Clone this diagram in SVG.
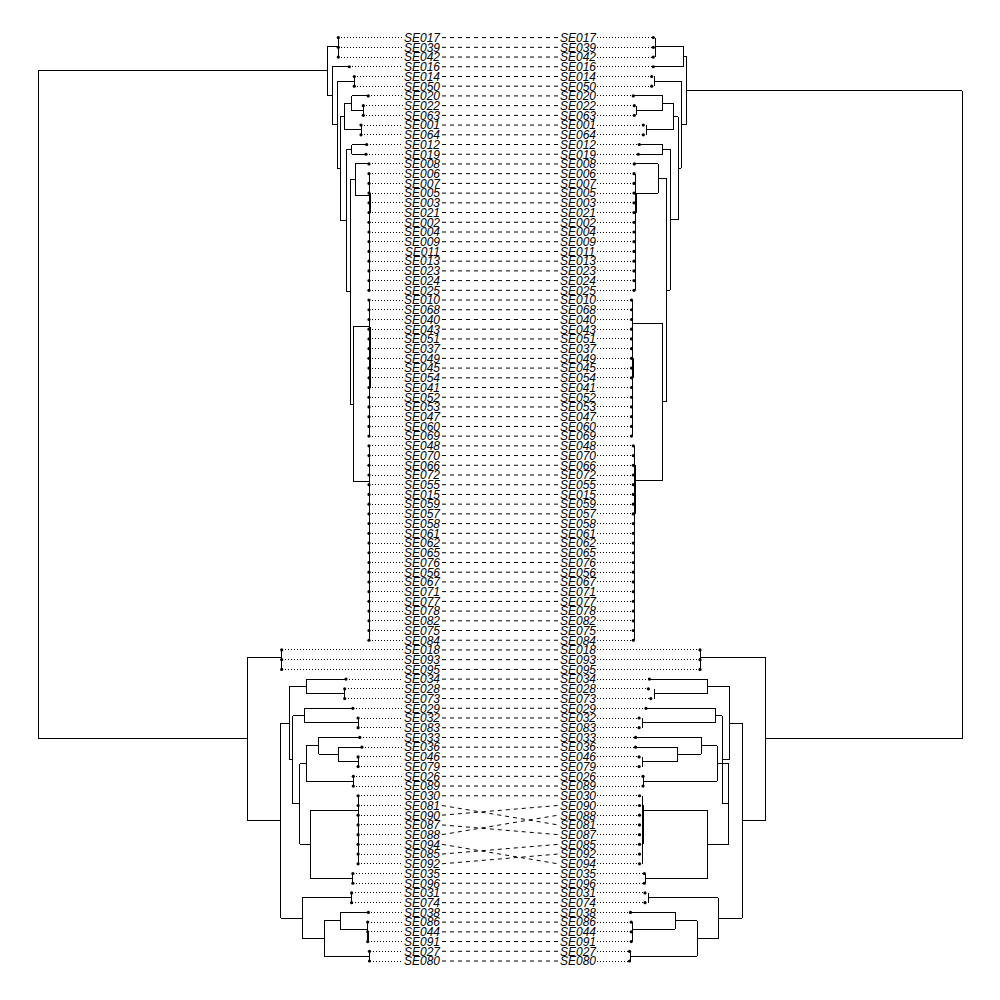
<svg xmlns="http://www.w3.org/2000/svg" width="1000" height="1000" viewBox="0 0 1000 1000">
<style>
text{font-family:"Liberation Sans",Arial,sans-serif;font-style:italic;font-size:12px;fill:#000}
.l text{text-anchor:end}
.tree{fill:none;stroke:#000;stroke-width:1;shape-rendering:crispEdges}
circle{fill:#000}
.dt{stroke:#000;stroke-width:1;stroke-dasharray:1 2;shape-rendering:crispEdges}
.cn line{stroke:#000;stroke-width:1;stroke-dasharray:4 4}
</style>
<rect width="1000" height="1000" fill="#fff"/>
<g id="left-tree" class="tree"><path d="M38,70.93H327M38,70.93V738.94H247.9
M327,46V95.87M327,46H338.3M338.3,37.6V57.04M327,95.87H332.3M332.3,66.76V124.97M332.3,66.76H349.3M332.3,124.97H337.3M337.3,81.34V168.6M337.3,81.34H354.3M354.3,76.48V86.2M337.3,168.6H340M340,116.58V220.61M340,116.58H344.3M344.3,103.21V129.94M344.3,103.21H351.7M351.7,95.92V110.5M351.7,95.92H368.3M351.7,110.5H363.3M363.3,105.64V115.36M344.3,129.94H361M361,125.08V134.8M340,220.61H346.3M346.3,149.38V291.84M346.3,149.38H351.7M351.7,144.52V154.24M351.7,144.52H366.7M351.7,154.24H366M346.3,291.84H350M350,179.48V404.2M350,179.48H355M355,163.96V195M355,163.96H369M355,195H369M369,173.68V290.32M370,193.12V212.56M350,404.2H353.3M353.3,326.7V481.7M353.3,326.7H369M369,300.04V436.12M370,326.7V387.52M353.3,481.7H369M369,445.84V640.24
M247.9,657.25V820.62M247.9,657.25H281.7M281.7,649.96V669.4M247.9,820.62H280.6M280.6,723.07V918.17M280.6,723.07H289.2M289.2,686.41V759.72M289.2,686.41H306.4M306.4,679.12V693.7M306.4,679.12H346M306.4,693.7H344.7M344.7,688.84V698.56M289.2,759.72H292.7M292.7,715.57V803.88M292.7,715.57H304M304,708.28V722.86M304,708.28H352.9M304,722.86H358.1M358.1,718V727.72M292.7,803.88H299.7M299.7,763.56V844.19M299.7,763.56H306.4M306.4,745.95V781.18M306.4,745.95H318.5M318.5,737.44V754.45M318.5,737.44H359.8M318.5,754.45H338.5M338.5,747.16V761.74M338.5,747.16H361.9M338.5,761.74H358.1M358.1,756.88V766.6M306.4,781.18H353.3M353.3,776.32V786.04M299.7,844.19H310.2M310.2,810V878.38M310.2,810H358.1M358.1,795.76V863.8M310.2,878.38H352.9M352.9,873.52V883.24M280.6,918.17H302.3M302.3,897.82V938.52M302.3,897.82H351.6M351.6,892.96V902.68M302.3,938.52H324M324,920.9V956.14M324,920.9H340.2M340.2,912.4V929.41M340.2,912.4H368.4M340.2,929.41H367.7M367.7,922.12V941.56M368.7,931.84V941.56M324,956.14H369.5M369.5,951.28V961"/></g>
<g id="right-tree" class="tree"><path d="M962,90.57H686M962,90.57V738.94H765
M686,56.38V124.76M686,56.38H683M683,46V66.76M683,46H655M655,37.6V57.04M683,66.76H653.3M686,124.76H681M681,81.34V168.17M681,81.34H654M654,76.48V86.2M681,168.17H678.3M678.3,116.58V219.76M678.3,116.58H673.3M673.3,103.21V129.94M673.3,103.21H662.7M662.7,95.92V110.5M662.7,95.92H633.3M662.7,110.5H636M636,105.64V115.36M673.3,129.94H646.7M646.7,125.08V134.8M678.3,219.76H670M670,149.38V290.14M670,149.38H662.7M662.7,144.52V154.24M662.7,144.52H639.3M662.7,154.24H638.3M670,290.14H666.7M666.7,178.63V401.65M666.7,178.63H658.3M658.3,163.96V193.3M658.3,163.96H634.3M658.3,193.3H635M635,173.68V290.32M636,193.12V212.56M666.7,401.65H662.7M662.7,323.3V480M662.7,323.3H632.3M632.3,300.04V436.12M633.3,358.36V377.8M662.7,480H634.3M634.3,445.84V640.24M635.3,465.28V513.88
M765,657.25V820.62M765,657.25H700M700,649.96V669.4M765,820.62H742.4M742.4,723.07V918.17M742.4,723.07H729.3M729.3,686.41V759.72M729.3,686.41H707M707,679.12V693.7M707,679.12H649.4M707,693.7H654.2M654.2,688.84V698.56M729.3,759.72H722.4M722.4,715.57V803.88M722.4,715.57H715.5M715.5,708.28V722.86M715.5,708.28H646M715.5,722.86H642.5M642.5,718V727.72M722.4,803.88H728.6M728.6,763.56V844.19M728.6,763.56H717.3M717.3,745.95V781.18M717.3,745.95H701M701,737.44V754.45M701,737.44H635.6M701,754.45H677.7M677.7,747.16V761.74M677.7,747.16H635.6M677.7,761.74H642.2M642.2,756.88V766.6M717.3,781.18H643.2M643.2,776.32V786.04M728.6,844.19H707.6M707.6,810V878.38M707.6,810H642.2M642.2,795.76V863.8M643.2,805.48V844.36M707.6,878.38H645.6M645.6,873.52V883.24M742.4,918.17H718.3M718.3,897.82V938.52M718.3,897.82H648.4M648.4,892.96V902.68M718.3,938.52H697.3M697.3,920.9V956.14M697.3,920.9H675.2M675.2,912.4V929.41M675.2,912.4H630.5M675.2,929.41H632.9M632.9,922.12V941.56M697.3,956.14H630.5M630.5,951.28V961"/></g>
<g id="connectors" class="cn">
<line x1="442" y1="37.6" x2="558" y2="37.6"/><line x1="442" y1="47.32" x2="558" y2="47.32"/><line x1="442" y1="57.04" x2="558" y2="57.04"/><line x1="442" y1="66.76" x2="558" y2="66.76"/><line x1="442" y1="76.48" x2="558" y2="76.48"/><line x1="442" y1="86.2" x2="558" y2="86.2"/><line x1="442" y1="95.92" x2="558" y2="95.92"/><line x1="442" y1="105.64" x2="558" y2="105.64"/><line x1="442" y1="115.36" x2="558" y2="115.36"/><line x1="442" y1="125.08" x2="558" y2="125.08"/><line x1="442" y1="134.8" x2="558" y2="134.8"/><line x1="442" y1="144.52" x2="558" y2="144.52"/><line x1="442" y1="154.24" x2="558" y2="154.24"/><line x1="442" y1="163.96" x2="558" y2="163.96"/><line x1="442" y1="173.68" x2="558" y2="173.68"/><line x1="442" y1="183.4" x2="558" y2="183.4"/><line x1="442" y1="193.12" x2="558" y2="193.12"/><line x1="442" y1="202.84" x2="558" y2="202.84"/><line x1="442" y1="212.56" x2="558" y2="212.56"/><line x1="442" y1="222.28" x2="558" y2="222.28"/><line x1="442" y1="232" x2="558" y2="232"/><line x1="442" y1="241.72" x2="558" y2="241.72"/><line x1="442" y1="251.44" x2="558" y2="251.44"/><line x1="442" y1="261.16" x2="558" y2="261.16"/><line x1="442" y1="270.88" x2="558" y2="270.88"/><line x1="442" y1="280.6" x2="558" y2="280.6"/><line x1="442" y1="290.32" x2="558" y2="290.32"/><line x1="442" y1="300.04" x2="558" y2="300.04"/><line x1="442" y1="309.76" x2="558" y2="309.76"/><line x1="442" y1="319.48" x2="558" y2="319.48"/><line x1="442" y1="329.2" x2="558" y2="329.2"/><line x1="442" y1="338.92" x2="558" y2="338.92"/><line x1="442" y1="348.64" x2="558" y2="348.64"/><line x1="442" y1="358.36" x2="558" y2="358.36"/><line x1="442" y1="368.08" x2="558" y2="368.08"/><line x1="442" y1="377.8" x2="558" y2="377.8"/><line x1="442" y1="387.52" x2="558" y2="387.52"/><line x1="442" y1="397.24" x2="558" y2="397.24"/><line x1="442" y1="406.96" x2="558" y2="406.96"/><line x1="442" y1="416.68" x2="558" y2="416.68"/><line x1="442" y1="426.4" x2="558" y2="426.4"/><line x1="442" y1="436.12" x2="558" y2="436.12"/><line x1="442" y1="445.84" x2="558" y2="445.84"/><line x1="442" y1="455.56" x2="558" y2="455.56"/><line x1="442" y1="465.28" x2="558" y2="465.28"/><line x1="442" y1="475" x2="558" y2="475"/><line x1="442" y1="484.72" x2="558" y2="484.72"/><line x1="442" y1="494.44" x2="558" y2="494.44"/><line x1="442" y1="504.16" x2="558" y2="504.16"/><line x1="442" y1="513.88" x2="558" y2="513.88"/><line x1="442" y1="523.6" x2="558" y2="523.6"/><line x1="442" y1="533.32" x2="558" y2="533.32"/><line x1="442" y1="543.04" x2="558" y2="543.04"/><line x1="442" y1="552.76" x2="558" y2="552.76"/><line x1="442" y1="562.48" x2="558" y2="562.48"/><line x1="442" y1="572.2" x2="558" y2="572.2"/><line x1="442" y1="581.92" x2="558" y2="581.92"/><line x1="442" y1="591.64" x2="558" y2="591.64"/><line x1="442" y1="601.36" x2="558" y2="601.36"/><line x1="442" y1="611.08" x2="558" y2="611.08"/><line x1="442" y1="620.8" x2="558" y2="620.8"/><line x1="442" y1="630.52" x2="558" y2="630.52"/><line x1="442" y1="640.24" x2="558" y2="640.24"/><line x1="442" y1="649.96" x2="558" y2="649.96"/><line x1="442" y1="659.68" x2="558" y2="659.68"/><line x1="442" y1="669.4" x2="558" y2="669.4"/><line x1="442" y1="679.12" x2="558" y2="679.12"/><line x1="442" y1="688.84" x2="558" y2="688.84"/><line x1="442" y1="698.56" x2="558" y2="698.56"/><line x1="442" y1="708.28" x2="558" y2="708.28"/><line x1="442" y1="718" x2="558" y2="718"/><line x1="442" y1="727.72" x2="558" y2="727.72"/><line x1="442" y1="737.44" x2="558" y2="737.44"/><line x1="442" y1="747.16" x2="558" y2="747.16"/><line x1="442" y1="756.88" x2="558" y2="756.88"/><line x1="442" y1="766.6" x2="558" y2="766.6"/><line x1="442" y1="776.32" x2="558" y2="776.32"/><line x1="442" y1="786.04" x2="558" y2="786.04"/><line x1="442" y1="795.76" x2="558" y2="795.76"/><line x1="442" y1="805.48" x2="558" y2="824.92"/><line x1="442" y1="815.2" x2="558" y2="805.48"/><line x1="442" y1="824.92" x2="558" y2="834.64"/><line x1="442" y1="834.64" x2="558" y2="815.2"/><line x1="442" y1="844.36" x2="558" y2="863.8"/><line x1="442" y1="854.08" x2="558" y2="844.36"/><line x1="442" y1="863.8" x2="558" y2="854.08"/><line x1="442" y1="873.52" x2="558" y2="873.52"/><line x1="442" y1="883.24" x2="558" y2="883.24"/><line x1="442" y1="892.96" x2="558" y2="892.96"/><line x1="442" y1="902.68" x2="558" y2="902.68"/><line x1="442" y1="912.4" x2="558" y2="912.4"/><line x1="442" y1="922.12" x2="558" y2="922.12"/><line x1="442" y1="931.84" x2="558" y2="931.84"/><line x1="442" y1="941.56" x2="558" y2="941.56"/><line x1="442" y1="951.28" x2="558" y2="951.28"/><line x1="442" y1="961" x2="558" y2="961"/>
</g>
<g class="l">
<g id="L-SE017" transform="translate(0,37.6)"><circle cx="338.3" r="1.6"/><line class="dt" x1="338.3" x2="403"/><text x="440" y="4.3">SE017</text></g>
<g id="L-SE039" transform="translate(0,47.32)"><circle cx="338.3" r="1.6"/><line class="dt" x1="338.3" x2="403"/><text x="440" y="4.3">SE039</text></g>
<g id="L-SE042" transform="translate(0,57.04)"><circle cx="338.3" r="1.6"/><line class="dt" x1="338.3" x2="403"/><text x="440" y="4.3">SE042</text></g>
<g id="L-SE016" transform="translate(0,66.76)"><circle cx="349.3" r="1.6"/><line class="dt" x1="349.3" x2="403"/><text x="440" y="4.3">SE016</text></g>
<g id="L-SE014" transform="translate(0,76.48)"><circle cx="354.3" r="1.6"/><line class="dt" x1="354.3" x2="403"/><text x="440" y="4.3">SE014</text></g>
<g id="L-SE050" transform="translate(0,86.2)"><circle cx="354.3" r="1.6"/><line class="dt" x1="354.3" x2="403"/><text x="440" y="4.3">SE050</text></g>
<g id="L-SE020" transform="translate(0,95.92)"><circle cx="368.3" r="1.6"/><line class="dt" x1="368.3" x2="403"/><text x="440" y="4.3">SE020</text></g>
<g id="L-SE022" transform="translate(0,105.64)"><circle cx="363.3" r="1.6"/><line class="dt" x1="363.3" x2="403"/><text x="440" y="4.3">SE022</text></g>
<g id="L-SE063" transform="translate(0,115.36)"><circle cx="363.3" r="1.6"/><line class="dt" x1="363.3" x2="403"/><text x="440" y="4.3">SE063</text></g>
<g id="L-SE001" transform="translate(0,125.08)"><circle cx="361" r="1.6"/><line class="dt" x1="361" x2="403"/><text x="440" y="4.3">SE001</text></g>
<g id="L-SE064" transform="translate(0,134.8)"><circle cx="361" r="1.6"/><line class="dt" x1="361" x2="403"/><text x="440" y="4.3">SE064</text></g>
<g id="L-SE012" transform="translate(0,144.52)"><circle cx="366.7" r="1.6"/><line class="dt" x1="366.7" x2="403"/><text x="440" y="4.3">SE012</text></g>
<g id="L-SE019" transform="translate(0,154.24)"><circle cx="366" r="1.6"/><line class="dt" x1="366" x2="403"/><text x="440" y="4.3">SE019</text></g>
<g id="L-SE008" transform="translate(0,163.96)"><circle cx="369" r="1.6"/><line class="dt" x1="369" x2="403"/><text x="440" y="4.3">SE008</text></g>
<g id="L-SE006" transform="translate(0,173.68)"><circle cx="369" r="1.6"/><line class="dt" x1="369" x2="403"/><text x="440" y="4.3">SE006</text></g>
<g id="L-SE007" transform="translate(0,183.4)"><circle cx="369" r="1.6"/><line class="dt" x1="369" x2="403"/><text x="440" y="4.3">SE007</text></g>
<g id="L-SE005" transform="translate(0,193.12)"><circle cx="369" r="1.6"/><line class="dt" x1="369" x2="403"/><text x="440" y="4.3">SE005</text></g>
<g id="L-SE003" transform="translate(0,202.84)"><circle cx="369" r="1.6"/><line class="dt" x1="369" x2="403"/><text x="440" y="4.3">SE003</text></g>
<g id="L-SE021" transform="translate(0,212.56)"><circle cx="369" r="1.6"/><line class="dt" x1="369" x2="403"/><text x="440" y="4.3">SE021</text></g>
<g id="L-SE002" transform="translate(0,222.28)"><circle cx="369" r="1.6"/><line class="dt" x1="369" x2="403"/><text x="440" y="4.3">SE002</text></g>
<g id="L-SE004" transform="translate(0,232)"><circle cx="369" r="1.6"/><line class="dt" x1="369" x2="403"/><text x="440" y="4.3">SE004</text></g>
<g id="L-SE009" transform="translate(0,241.72)"><circle cx="369" r="1.6"/><line class="dt" x1="369" x2="403"/><text x="440" y="4.3">SE009</text></g>
<g id="L-SE011" transform="translate(0,251.44)"><circle cx="369" r="1.6"/><line class="dt" x1="369" x2="403"/><text x="440" y="4.3">SE011</text></g>
<g id="L-SE013" transform="translate(0,261.16)"><circle cx="369" r="1.6"/><line class="dt" x1="369" x2="403"/><text x="440" y="4.3">SE013</text></g>
<g id="L-SE023" transform="translate(0,270.88)"><circle cx="369" r="1.6"/><line class="dt" x1="369" x2="403"/><text x="440" y="4.3">SE023</text></g>
<g id="L-SE024" transform="translate(0,280.6)"><circle cx="369" r="1.6"/><line class="dt" x1="369" x2="403"/><text x="440" y="4.3">SE024</text></g>
<g id="L-SE025" transform="translate(0,290.32)"><circle cx="369" r="1.6"/><line class="dt" x1="369" x2="403"/><text x="440" y="4.3">SE025</text></g>
<g id="L-SE010" transform="translate(0,300.04)"><circle cx="369" r="1.6"/><line class="dt" x1="369" x2="403"/><text x="440" y="4.3">SE010</text></g>
<g id="L-SE068" transform="translate(0,309.76)"><circle cx="369" r="1.6"/><line class="dt" x1="369" x2="403"/><text x="440" y="4.3">SE068</text></g>
<g id="L-SE040" transform="translate(0,319.48)"><circle cx="369" r="1.6"/><line class="dt" x1="369" x2="403"/><text x="440" y="4.3">SE040</text></g>
<g id="L-SE043" transform="translate(0,329.2)"><circle cx="369" r="1.6"/><line class="dt" x1="369" x2="403"/><text x="440" y="4.3">SE043</text></g>
<g id="L-SE051" transform="translate(0,338.92)"><circle cx="369" r="1.6"/><line class="dt" x1="369" x2="403"/><text x="440" y="4.3">SE051</text></g>
<g id="L-SE037" transform="translate(0,348.64)"><circle cx="369" r="1.6"/><line class="dt" x1="369" x2="403"/><text x="440" y="4.3">SE037</text></g>
<g id="L-SE049" transform="translate(0,358.36)"><circle cx="369" r="1.6"/><line class="dt" x1="369" x2="403"/><text x="440" y="4.3">SE049</text></g>
<g id="L-SE045" transform="translate(0,368.08)"><circle cx="369" r="1.6"/><line class="dt" x1="369" x2="403"/><text x="440" y="4.3">SE045</text></g>
<g id="L-SE054" transform="translate(0,377.8)"><circle cx="369" r="1.6"/><line class="dt" x1="369" x2="403"/><text x="440" y="4.3">SE054</text></g>
<g id="L-SE041" transform="translate(0,387.52)"><circle cx="369" r="1.6"/><line class="dt" x1="369" x2="403"/><text x="440" y="4.3">SE041</text></g>
<g id="L-SE052" transform="translate(0,397.24)"><circle cx="369" r="1.6"/><line class="dt" x1="369" x2="403"/><text x="440" y="4.3">SE052</text></g>
<g id="L-SE053" transform="translate(0,406.96)"><circle cx="369" r="1.6"/><line class="dt" x1="369" x2="403"/><text x="440" y="4.3">SE053</text></g>
<g id="L-SE047" transform="translate(0,416.68)"><circle cx="369" r="1.6"/><line class="dt" x1="369" x2="403"/><text x="440" y="4.3">SE047</text></g>
<g id="L-SE060" transform="translate(0,426.4)"><circle cx="369" r="1.6"/><line class="dt" x1="369" x2="403"/><text x="440" y="4.3">SE060</text></g>
<g id="L-SE069" transform="translate(0,436.12)"><circle cx="369" r="1.6"/><line class="dt" x1="369" x2="403"/><text x="440" y="4.3">SE069</text></g>
<g id="L-SE048" transform="translate(0,445.84)"><circle cx="369" r="1.6"/><line class="dt" x1="369" x2="403"/><text x="440" y="4.3">SE048</text></g>
<g id="L-SE070" transform="translate(0,455.56)"><circle cx="369" r="1.6"/><line class="dt" x1="369" x2="403"/><text x="440" y="4.3">SE070</text></g>
<g id="L-SE066" transform="translate(0,465.28)"><circle cx="369" r="1.6"/><line class="dt" x1="369" x2="403"/><text x="440" y="4.3">SE066</text></g>
<g id="L-SE072" transform="translate(0,475)"><circle cx="369" r="1.6"/><line class="dt" x1="369" x2="403"/><text x="440" y="4.3">SE072</text></g>
<g id="L-SE055" transform="translate(0,484.72)"><circle cx="369" r="1.6"/><line class="dt" x1="369" x2="403"/><text x="440" y="4.3">SE055</text></g>
<g id="L-SE015" transform="translate(0,494.44)"><circle cx="369" r="1.6"/><line class="dt" x1="369" x2="403"/><text x="440" y="4.3">SE015</text></g>
<g id="L-SE059" transform="translate(0,504.16)"><circle cx="369" r="1.6"/><line class="dt" x1="369" x2="403"/><text x="440" y="4.3">SE059</text></g>
<g id="L-SE057" transform="translate(0,513.88)"><circle cx="369" r="1.6"/><line class="dt" x1="369" x2="403"/><text x="440" y="4.3">SE057</text></g>
<g id="L-SE058" transform="translate(0,523.6)"><circle cx="369" r="1.6"/><line class="dt" x1="369" x2="403"/><text x="440" y="4.3">SE058</text></g>
<g id="L-SE061" transform="translate(0,533.32)"><circle cx="369" r="1.6"/><line class="dt" x1="369" x2="403"/><text x="440" y="4.3">SE061</text></g>
<g id="L-SE062" transform="translate(0,543.04)"><circle cx="369" r="1.6"/><line class="dt" x1="369" x2="403"/><text x="440" y="4.3">SE062</text></g>
<g id="L-SE065" transform="translate(0,552.76)"><circle cx="369" r="1.6"/><line class="dt" x1="369" x2="403"/><text x="440" y="4.3">SE065</text></g>
<g id="L-SE076" transform="translate(0,562.48)"><circle cx="369" r="1.6"/><line class="dt" x1="369" x2="403"/><text x="440" y="4.3">SE076</text></g>
<g id="L-SE056" transform="translate(0,572.2)"><circle cx="369" r="1.6"/><line class="dt" x1="369" x2="403"/><text x="440" y="4.3">SE056</text></g>
<g id="L-SE067" transform="translate(0,581.92)"><circle cx="369" r="1.6"/><line class="dt" x1="369" x2="403"/><text x="440" y="4.3">SE067</text></g>
<g id="L-SE071" transform="translate(0,591.64)"><circle cx="369" r="1.6"/><line class="dt" x1="369" x2="403"/><text x="440" y="4.3">SE071</text></g>
<g id="L-SE077" transform="translate(0,601.36)"><circle cx="369" r="1.6"/><line class="dt" x1="369" x2="403"/><text x="440" y="4.3">SE077</text></g>
<g id="L-SE078" transform="translate(0,611.08)"><circle cx="369" r="1.6"/><line class="dt" x1="369" x2="403"/><text x="440" y="4.3">SE078</text></g>
<g id="L-SE082" transform="translate(0,620.8)"><circle cx="369" r="1.6"/><line class="dt" x1="369" x2="403"/><text x="440" y="4.3">SE082</text></g>
<g id="L-SE075" transform="translate(0,630.52)"><circle cx="369" r="1.6"/><line class="dt" x1="369" x2="403"/><text x="440" y="4.3">SE075</text></g>
<g id="L-SE084" transform="translate(0,640.24)"><circle cx="369" r="1.6"/><line class="dt" x1="369" x2="403"/><text x="440" y="4.3">SE084</text></g>
<g id="L-SE018" transform="translate(0,649.96)"><circle cx="281.7" r="1.6"/><line class="dt" x1="281.7" x2="403"/><text x="440" y="4.3">SE018</text></g>
<g id="L-SE093" transform="translate(0,659.68)"><circle cx="281.7" r="1.6"/><line class="dt" x1="281.7" x2="403"/><text x="440" y="4.3">SE093</text></g>
<g id="L-SE095" transform="translate(0,669.4)"><circle cx="281.7" r="1.6"/><line class="dt" x1="281.7" x2="403"/><text x="440" y="4.3">SE095</text></g>
<g id="L-SE034" transform="translate(0,679.12)"><circle cx="346" r="1.6"/><line class="dt" x1="346" x2="403"/><text x="440" y="4.3">SE034</text></g>
<g id="L-SE028" transform="translate(0,688.84)"><circle cx="344.7" r="1.6"/><line class="dt" x1="344.7" x2="403"/><text x="440" y="4.3">SE028</text></g>
<g id="L-SE073" transform="translate(0,698.56)"><circle cx="344.7" r="1.6"/><line class="dt" x1="344.7" x2="403"/><text x="440" y="4.3">SE073</text></g>
<g id="L-SE029" transform="translate(0,708.28)"><circle cx="352.9" r="1.6"/><line class="dt" x1="352.9" x2="403"/><text x="440" y="4.3">SE029</text></g>
<g id="L-SE032" transform="translate(0,718)"><circle cx="358.1" r="1.6"/><line class="dt" x1="358.1" x2="403"/><text x="440" y="4.3">SE032</text></g>
<g id="L-SE083" transform="translate(0,727.72)"><circle cx="358.1" r="1.6"/><line class="dt" x1="358.1" x2="403"/><text x="440" y="4.3">SE083</text></g>
<g id="L-SE033" transform="translate(0,737.44)"><circle cx="359.8" r="1.6"/><line class="dt" x1="359.8" x2="403"/><text x="440" y="4.3">SE033</text></g>
<g id="L-SE036" transform="translate(0,747.16)"><circle cx="361.9" r="1.6"/><line class="dt" x1="361.9" x2="403"/><text x="440" y="4.3">SE036</text></g>
<g id="L-SE046" transform="translate(0,756.88)"><circle cx="358.1" r="1.6"/><line class="dt" x1="358.1" x2="403"/><text x="440" y="4.3">SE046</text></g>
<g id="L-SE079" transform="translate(0,766.6)"><circle cx="358.1" r="1.6"/><line class="dt" x1="358.1" x2="403"/><text x="440" y="4.3">SE079</text></g>
<g id="L-SE026" transform="translate(0,776.32)"><circle cx="353.3" r="1.6"/><line class="dt" x1="353.3" x2="403"/><text x="440" y="4.3">SE026</text></g>
<g id="L-SE089" transform="translate(0,786.04)"><circle cx="353.3" r="1.6"/><line class="dt" x1="353.3" x2="403"/><text x="440" y="4.3">SE089</text></g>
<g id="L-SE030" transform="translate(0,795.76)"><circle cx="358.1" r="1.6"/><line class="dt" x1="358.1" x2="403"/><text x="440" y="4.3">SE030</text></g>
<g id="L-SE081" transform="translate(0,805.48)"><circle cx="358.1" r="1.6"/><line class="dt" x1="358.1" x2="403"/><text x="440" y="4.3">SE081</text></g>
<g id="L-SE090" transform="translate(0,815.2)"><circle cx="358.1" r="1.6"/><line class="dt" x1="358.1" x2="403"/><text x="440" y="4.3">SE090</text></g>
<g id="L-SE087" transform="translate(0,824.92)"><circle cx="358.1" r="1.6"/><line class="dt" x1="358.1" x2="403"/><text x="440" y="4.3">SE087</text></g>
<g id="L-SE088" transform="translate(0,834.64)"><circle cx="358.1" r="1.6"/><line class="dt" x1="358.1" x2="403"/><text x="440" y="4.3">SE088</text></g>
<g id="L-SE094" transform="translate(0,844.36)"><circle cx="358.1" r="1.6"/><line class="dt" x1="358.1" x2="403"/><text x="440" y="4.3">SE094</text></g>
<g id="L-SE085" transform="translate(0,854.08)"><circle cx="358.1" r="1.6"/><line class="dt" x1="358.1" x2="403"/><text x="440" y="4.3">SE085</text></g>
<g id="L-SE092" transform="translate(0,863.8)"><circle cx="358.1" r="1.6"/><line class="dt" x1="358.1" x2="403"/><text x="440" y="4.3">SE092</text></g>
<g id="L-SE035" transform="translate(0,873.52)"><circle cx="352.9" r="1.6"/><line class="dt" x1="352.9" x2="403"/><text x="440" y="4.3">SE035</text></g>
<g id="L-SE096" transform="translate(0,883.24)"><circle cx="352.9" r="1.6"/><line class="dt" x1="352.9" x2="403"/><text x="440" y="4.3">SE096</text></g>
<g id="L-SE031" transform="translate(0,892.96)"><circle cx="351.6" r="1.6"/><line class="dt" x1="351.6" x2="403"/><text x="440" y="4.3">SE031</text></g>
<g id="L-SE074" transform="translate(0,902.68)"><circle cx="351.6" r="1.6"/><line class="dt" x1="351.6" x2="403"/><text x="440" y="4.3">SE074</text></g>
<g id="L-SE038" transform="translate(0,912.4)"><circle cx="368.4" r="1.6"/><line class="dt" x1="368.4" x2="403"/><text x="440" y="4.3">SE038</text></g>
<g id="L-SE086" transform="translate(0,922.12)"><circle cx="367.7" r="1.6"/><line class="dt" x1="367.7" x2="403"/><text x="440" y="4.3">SE086</text></g>
<g id="L-SE044" transform="translate(0,931.84)"><circle cx="367.7" r="1.6"/><line class="dt" x1="367.7" x2="403"/><text x="440" y="4.3">SE044</text></g>
<g id="L-SE091" transform="translate(0,941.56)"><circle cx="367.7" r="1.6"/><line class="dt" x1="367.7" x2="403"/><text x="440" y="4.3">SE091</text></g>
<g id="L-SE027" transform="translate(0,951.28)"><circle cx="369.5" r="1.6"/><line class="dt" x1="369.5" x2="403"/><text x="440" y="4.3">SE027</text></g>
<g id="L-SE080" transform="translate(0,961)"><circle cx="369.5" r="1.6"/><line class="dt" x1="369.5" x2="403"/><text x="440" y="4.3">SE080</text></g>
</g>
<g class="r">
<g id="R-SE017" transform="translate(0,37.6)"><circle cx="653.3" r="1.6"/><line class="dt" x1="597" x2="653.3"/><text x="560" y="4.3">SE017</text></g>
<g id="R-SE039" transform="translate(0,47.32)"><circle cx="653.3" r="1.6"/><line class="dt" x1="597" x2="653.3"/><text x="560" y="4.3">SE039</text></g>
<g id="R-SE042" transform="translate(0,57.04)"><circle cx="653.3" r="1.6"/><line class="dt" x1="597" x2="653.3"/><text x="560" y="4.3">SE042</text></g>
<g id="R-SE016" transform="translate(0,66.76)"><circle cx="653.3" r="1.6"/><line class="dt" x1="597" x2="653.3"/><text x="560" y="4.3">SE016</text></g>
<g id="R-SE014" transform="translate(0,76.48)"><circle cx="651.7" r="1.6"/><line class="dt" x1="597" x2="651.7"/><text x="560" y="4.3">SE014</text></g>
<g id="R-SE050" transform="translate(0,86.2)"><circle cx="651.7" r="1.6"/><line class="dt" x1="597" x2="651.7"/><text x="560" y="4.3">SE050</text></g>
<g id="R-SE020" transform="translate(0,95.92)"><circle cx="633.3" r="1.6"/><line class="dt" x1="597" x2="633.3"/><text x="560" y="4.3">SE020</text></g>
<g id="R-SE022" transform="translate(0,105.64)"><circle cx="634.3" r="1.6"/><line class="dt" x1="597" x2="634.3"/><text x="560" y="4.3">SE022</text></g>
<g id="R-SE063" transform="translate(0,115.36)"><circle cx="634.3" r="1.6"/><line class="dt" x1="597" x2="634.3"/><text x="560" y="4.3">SE063</text></g>
<g id="R-SE001" transform="translate(0,125.08)"><circle cx="643.3" r="1.6"/><line class="dt" x1="597" x2="643.3"/><text x="560" y="4.3">SE001</text></g>
<g id="R-SE064" transform="translate(0,134.8)"><circle cx="643.3" r="1.6"/><line class="dt" x1="597" x2="643.3"/><text x="560" y="4.3">SE064</text></g>
<g id="R-SE012" transform="translate(0,144.52)"><circle cx="639.3" r="1.6"/><line class="dt" x1="597" x2="639.3"/><text x="560" y="4.3">SE012</text></g>
<g id="R-SE019" transform="translate(0,154.24)"><circle cx="638.3" r="1.6"/><line class="dt" x1="597" x2="638.3"/><text x="560" y="4.3">SE019</text></g>
<g id="R-SE008" transform="translate(0,163.96)"><circle cx="634.3" r="1.6"/><line class="dt" x1="597" x2="634.3"/><text x="560" y="4.3">SE008</text></g>
<g id="R-SE006" transform="translate(0,173.68)"><circle cx="634" r="1.6"/><line class="dt" x1="597" x2="634"/><text x="560" y="4.3">SE006</text></g>
<g id="R-SE007" transform="translate(0,183.4)"><circle cx="634" r="1.6"/><line class="dt" x1="597" x2="634"/><text x="560" y="4.3">SE007</text></g>
<g id="R-SE005" transform="translate(0,193.12)"><circle cx="634" r="1.6"/><line class="dt" x1="597" x2="634"/><text x="560" y="4.3">SE005</text></g>
<g id="R-SE003" transform="translate(0,202.84)"><circle cx="634" r="1.6"/><line class="dt" x1="597" x2="634"/><text x="560" y="4.3">SE003</text></g>
<g id="R-SE021" transform="translate(0,212.56)"><circle cx="634" r="1.6"/><line class="dt" x1="597" x2="634"/><text x="560" y="4.3">SE021</text></g>
<g id="R-SE002" transform="translate(0,222.28)"><circle cx="634" r="1.6"/><line class="dt" x1="597" x2="634"/><text x="560" y="4.3">SE002</text></g>
<g id="R-SE004" transform="translate(0,232)"><circle cx="634" r="1.6"/><line class="dt" x1="597" x2="634"/><text x="560" y="4.3">SE004</text></g>
<g id="R-SE009" transform="translate(0,241.72)"><circle cx="634" r="1.6"/><line class="dt" x1="597" x2="634"/><text x="560" y="4.3">SE009</text></g>
<g id="R-SE011" transform="translate(0,251.44)"><circle cx="634" r="1.6"/><line class="dt" x1="597" x2="634"/><text x="560" y="4.3">SE011</text></g>
<g id="R-SE013" transform="translate(0,261.16)"><circle cx="634" r="1.6"/><line class="dt" x1="597" x2="634"/><text x="560" y="4.3">SE013</text></g>
<g id="R-SE023" transform="translate(0,270.88)"><circle cx="634" r="1.6"/><line class="dt" x1="597" x2="634"/><text x="560" y="4.3">SE023</text></g>
<g id="R-SE024" transform="translate(0,280.6)"><circle cx="634" r="1.6"/><line class="dt" x1="597" x2="634"/><text x="560" y="4.3">SE024</text></g>
<g id="R-SE025" transform="translate(0,290.32)"><circle cx="634" r="1.6"/><line class="dt" x1="597" x2="634"/><text x="560" y="4.3">SE025</text></g>
<g id="R-SE010" transform="translate(0,300.04)"><circle cx="631.5" r="1.6"/><line class="dt" x1="597" x2="631.5"/><text x="560" y="4.3">SE010</text></g>
<g id="R-SE068" transform="translate(0,309.76)"><circle cx="631.5" r="1.6"/><line class="dt" x1="597" x2="631.5"/><text x="560" y="4.3">SE068</text></g>
<g id="R-SE040" transform="translate(0,319.48)"><circle cx="631.5" r="1.6"/><line class="dt" x1="597" x2="631.5"/><text x="560" y="4.3">SE040</text></g>
<g id="R-SE043" transform="translate(0,329.2)"><circle cx="631.5" r="1.6"/><line class="dt" x1="597" x2="631.5"/><text x="560" y="4.3">SE043</text></g>
<g id="R-SE051" transform="translate(0,338.92)"><circle cx="631.5" r="1.6"/><line class="dt" x1="597" x2="631.5"/><text x="560" y="4.3">SE051</text></g>
<g id="R-SE037" transform="translate(0,348.64)"><circle cx="631.5" r="1.6"/><line class="dt" x1="597" x2="631.5"/><text x="560" y="4.3">SE037</text></g>
<g id="R-SE049" transform="translate(0,358.36)"><circle cx="631.5" r="1.6"/><line class="dt" x1="597" x2="631.5"/><text x="560" y="4.3">SE049</text></g>
<g id="R-SE045" transform="translate(0,368.08)"><circle cx="631.5" r="1.6"/><line class="dt" x1="597" x2="631.5"/><text x="560" y="4.3">SE045</text></g>
<g id="R-SE054" transform="translate(0,377.8)"><circle cx="631.5" r="1.6"/><line class="dt" x1="597" x2="631.5"/><text x="560" y="4.3">SE054</text></g>
<g id="R-SE041" transform="translate(0,387.52)"><circle cx="631.5" r="1.6"/><line class="dt" x1="597" x2="631.5"/><text x="560" y="4.3">SE041</text></g>
<g id="R-SE052" transform="translate(0,397.24)"><circle cx="631.5" r="1.6"/><line class="dt" x1="597" x2="631.5"/><text x="560" y="4.3">SE052</text></g>
<g id="R-SE053" transform="translate(0,406.96)"><circle cx="631.5" r="1.6"/><line class="dt" x1="597" x2="631.5"/><text x="560" y="4.3">SE053</text></g>
<g id="R-SE047" transform="translate(0,416.68)"><circle cx="631.5" r="1.6"/><line class="dt" x1="597" x2="631.5"/><text x="560" y="4.3">SE047</text></g>
<g id="R-SE060" transform="translate(0,426.4)"><circle cx="631.5" r="1.6"/><line class="dt" x1="597" x2="631.5"/><text x="560" y="4.3">SE060</text></g>
<g id="R-SE069" transform="translate(0,436.12)"><circle cx="631.5" r="1.6"/><line class="dt" x1="597" x2="631.5"/><text x="560" y="4.3">SE069</text></g>
<g id="R-SE048" transform="translate(0,445.84)"><circle cx="633.3" r="1.6"/><line class="dt" x1="597" x2="633.3"/><text x="560" y="4.3">SE048</text></g>
<g id="R-SE070" transform="translate(0,455.56)"><circle cx="633.3" r="1.6"/><line class="dt" x1="597" x2="633.3"/><text x="560" y="4.3">SE070</text></g>
<g id="R-SE066" transform="translate(0,465.28)"><circle cx="633.3" r="1.6"/><line class="dt" x1="597" x2="633.3"/><text x="560" y="4.3">SE066</text></g>
<g id="R-SE072" transform="translate(0,475)"><circle cx="633.3" r="1.6"/><line class="dt" x1="597" x2="633.3"/><text x="560" y="4.3">SE072</text></g>
<g id="R-SE055" transform="translate(0,484.72)"><circle cx="633.3" r="1.6"/><line class="dt" x1="597" x2="633.3"/><text x="560" y="4.3">SE055</text></g>
<g id="R-SE015" transform="translate(0,494.44)"><circle cx="633.3" r="1.6"/><line class="dt" x1="597" x2="633.3"/><text x="560" y="4.3">SE015</text></g>
<g id="R-SE059" transform="translate(0,504.16)"><circle cx="633.3" r="1.6"/><line class="dt" x1="597" x2="633.3"/><text x="560" y="4.3">SE059</text></g>
<g id="R-SE057" transform="translate(0,513.88)"><circle cx="633.3" r="1.6"/><line class="dt" x1="597" x2="633.3"/><text x="560" y="4.3">SE057</text></g>
<g id="R-SE058" transform="translate(0,523.6)"><circle cx="633.3" r="1.6"/><line class="dt" x1="597" x2="633.3"/><text x="560" y="4.3">SE058</text></g>
<g id="R-SE061" transform="translate(0,533.32)"><circle cx="633.3" r="1.6"/><line class="dt" x1="597" x2="633.3"/><text x="560" y="4.3">SE061</text></g>
<g id="R-SE062" transform="translate(0,543.04)"><circle cx="633.3" r="1.6"/><line class="dt" x1="597" x2="633.3"/><text x="560" y="4.3">SE062</text></g>
<g id="R-SE065" transform="translate(0,552.76)"><circle cx="633.3" r="1.6"/><line class="dt" x1="597" x2="633.3"/><text x="560" y="4.3">SE065</text></g>
<g id="R-SE076" transform="translate(0,562.48)"><circle cx="633.3" r="1.6"/><line class="dt" x1="597" x2="633.3"/><text x="560" y="4.3">SE076</text></g>
<g id="R-SE056" transform="translate(0,572.2)"><circle cx="633.3" r="1.6"/><line class="dt" x1="597" x2="633.3"/><text x="560" y="4.3">SE056</text></g>
<g id="R-SE067" transform="translate(0,581.92)"><circle cx="633.3" r="1.6"/><line class="dt" x1="597" x2="633.3"/><text x="560" y="4.3">SE067</text></g>
<g id="R-SE071" transform="translate(0,591.64)"><circle cx="633.3" r="1.6"/><line class="dt" x1="597" x2="633.3"/><text x="560" y="4.3">SE071</text></g>
<g id="R-SE077" transform="translate(0,601.36)"><circle cx="633.3" r="1.6"/><line class="dt" x1="597" x2="633.3"/><text x="560" y="4.3">SE077</text></g>
<g id="R-SE078" transform="translate(0,611.08)"><circle cx="633.3" r="1.6"/><line class="dt" x1="597" x2="633.3"/><text x="560" y="4.3">SE078</text></g>
<g id="R-SE082" transform="translate(0,620.8)"><circle cx="633.3" r="1.6"/><line class="dt" x1="597" x2="633.3"/><text x="560" y="4.3">SE082</text></g>
<g id="R-SE075" transform="translate(0,630.52)"><circle cx="633.3" r="1.6"/><line class="dt" x1="597" x2="633.3"/><text x="560" y="4.3">SE075</text></g>
<g id="R-SE084" transform="translate(0,640.24)"><circle cx="633.3" r="1.6"/><line class="dt" x1="597" x2="633.3"/><text x="560" y="4.3">SE084</text></g>
<g id="R-SE018" transform="translate(0,649.96)"><circle cx="700" r="1.6"/><line class="dt" x1="597" x2="700"/><text x="560" y="4.3">SE018</text></g>
<g id="R-SE093" transform="translate(0,659.68)"><circle cx="700" r="1.6"/><line class="dt" x1="597" x2="700"/><text x="560" y="4.3">SE093</text></g>
<g id="R-SE095" transform="translate(0,669.4)"><circle cx="700" r="1.6"/><line class="dt" x1="597" x2="700"/><text x="560" y="4.3">SE095</text></g>
<g id="R-SE034" transform="translate(0,679.12)"><circle cx="649.4" r="1.6"/><line class="dt" x1="597" x2="649.4"/><text x="560" y="4.3">SE034</text></g>
<g id="R-SE028" transform="translate(0,688.84)"><circle cx="648.4" r="1.6"/><line class="dt" x1="597" x2="648.4"/><text x="560" y="4.3">SE028</text></g>
<g id="R-SE073" transform="translate(0,698.56)"><circle cx="650.8" r="1.6"/><line class="dt" x1="597" x2="650.8"/><text x="560" y="4.3">SE073</text></g>
<g id="R-SE029" transform="translate(0,708.28)"><circle cx="646" r="1.6"/><line class="dt" x1="597" x2="646"/><text x="560" y="4.3">SE029</text></g>
<g id="R-SE032" transform="translate(0,718)"><circle cx="639.1" r="1.6"/><line class="dt" x1="597" x2="639.1"/><text x="560" y="4.3">SE032</text></g>
<g id="R-SE083" transform="translate(0,727.72)"><circle cx="639.1" r="1.6"/><line class="dt" x1="597" x2="639.1"/><text x="560" y="4.3">SE083</text></g>
<g id="R-SE033" transform="translate(0,737.44)"><circle cx="635.6" r="1.6"/><line class="dt" x1="597" x2="635.6"/><text x="560" y="4.3">SE033</text></g>
<g id="R-SE036" transform="translate(0,747.16)"><circle cx="635.6" r="1.6"/><line class="dt" x1="597" x2="635.6"/><text x="560" y="4.3">SE036</text></g>
<g id="R-SE046" transform="translate(0,756.88)"><circle cx="639.1" r="1.6"/><line class="dt" x1="597" x2="639.1"/><text x="560" y="4.3">SE046</text></g>
<g id="R-SE079" transform="translate(0,766.6)"><circle cx="639.1" r="1.6"/><line class="dt" x1="597" x2="639.1"/><text x="560" y="4.3">SE079</text></g>
<g id="R-SE026" transform="translate(0,776.32)"><circle cx="643" r="1.6"/><line class="dt" x1="597" x2="643"/><text x="560" y="4.3">SE026</text></g>
<g id="R-SE089" transform="translate(0,786.04)"><circle cx="643" r="1.6"/><line class="dt" x1="597" x2="643"/><text x="560" y="4.3">SE089</text></g>
<g id="R-SE030" transform="translate(0,795.76)"><circle cx="639.5" r="1.6"/><line class="dt" x1="597" x2="639.5"/><text x="560" y="4.3">SE030</text></g>
<g id="R-SE090" transform="translate(0,805.48)"><circle cx="639.5" r="1.6"/><line class="dt" x1="597" x2="639.5"/><text x="560" y="4.3">SE090</text></g>
<g id="R-SE088" transform="translate(0,815.2)"><circle cx="639.5" r="1.6"/><line class="dt" x1="597" x2="639.5"/><text x="560" y="4.3">SE088</text></g>
<g id="R-SE081" transform="translate(0,824.92)"><circle cx="639.5" r="1.6"/><line class="dt" x1="597" x2="639.5"/><text x="560" y="4.3">SE081</text></g>
<g id="R-SE087" transform="translate(0,834.64)"><circle cx="639.5" r="1.6"/><line class="dt" x1="597" x2="639.5"/><text x="560" y="4.3">SE087</text></g>
<g id="R-SE085" transform="translate(0,844.36)"><circle cx="639.5" r="1.6"/><line class="dt" x1="597" x2="639.5"/><text x="560" y="4.3">SE085</text></g>
<g id="R-SE092" transform="translate(0,854.08)"><circle cx="639.5" r="1.6"/><line class="dt" x1="597" x2="639.5"/><text x="560" y="4.3">SE092</text></g>
<g id="R-SE094" transform="translate(0,863.8)"><circle cx="639.5" r="1.6"/><line class="dt" x1="597" x2="639.5"/><text x="560" y="4.3">SE094</text></g>
<g id="R-SE035" transform="translate(0,873.52)"><circle cx="644.3" r="1.6"/><line class="dt" x1="597" x2="644.3"/><text x="560" y="4.3">SE035</text></g>
<g id="R-SE096" transform="translate(0,883.24)"><circle cx="644.3" r="1.6"/><line class="dt" x1="597" x2="644.3"/><text x="560" y="4.3">SE096</text></g>
<g id="R-SE031" transform="translate(0,892.96)"><circle cx="645" r="1.6"/><line class="dt" x1="597" x2="645"/><text x="560" y="4.3">SE031</text></g>
<g id="R-SE074" transform="translate(0,902.68)"><circle cx="645" r="1.6"/><line class="dt" x1="597" x2="645"/><text x="560" y="4.3">SE074</text></g>
<g id="R-SE038" transform="translate(0,912.4)"><circle cx="630.5" r="1.6"/><line class="dt" x1="597" x2="630.5"/><text x="560" y="4.3">SE038</text></g>
<g id="R-SE086" transform="translate(0,922.12)"><circle cx="631.2" r="1.6"/><line class="dt" x1="597" x2="631.2"/><text x="560" y="4.3">SE086</text></g>
<g id="R-SE044" transform="translate(0,931.84)"><circle cx="631.2" r="1.6"/><line class="dt" x1="597" x2="631.2"/><text x="560" y="4.3">SE044</text></g>
<g id="R-SE091" transform="translate(0,941.56)"><circle cx="631.2" r="1.6"/><line class="dt" x1="597" x2="631.2"/><text x="560" y="4.3">SE091</text></g>
<g id="R-SE027" transform="translate(0,951.28)"><circle cx="629.5" r="1.6"/><line class="dt" x1="597" x2="629.5"/><text x="560" y="4.3">SE027</text></g>
<g id="R-SE080" transform="translate(0,961)"><circle cx="629.5" r="1.6"/><line class="dt" x1="597" x2="629.5"/><text x="560" y="4.3">SE080</text></g>
</g>
</svg>
